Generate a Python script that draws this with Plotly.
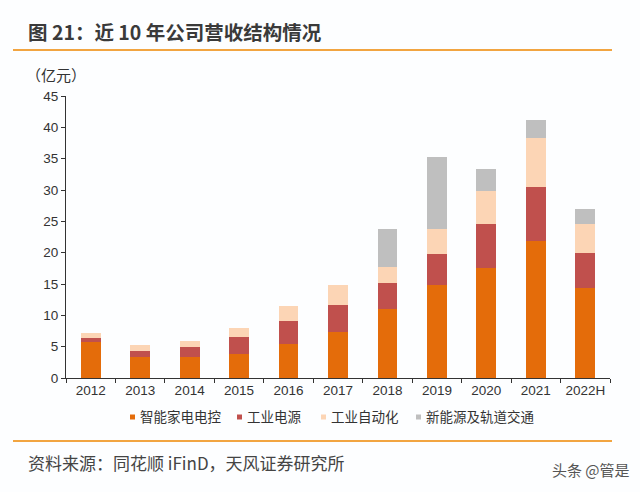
import plotly.graph_objects as go

years = ["2012", "2013", "2014", "2015", "2016", "2017", "2018", "2019", "2020", "2021", "2022H"]
smart_home = [5.8, 3.3, 3.3, 3.8, 5.5, 7.4, 11.0, 14.9, 17.6, 21.8, 14.4]
industrial_power = [0.65, 1.0, 1.65, 2.75, 3.55, 4.2, 4.2, 4.95, 7.0, 8.7, 5.5]
industrial_auto = [0.7, 0.9, 1.0, 1.5, 2.45, 3.2, 2.55, 3.95, 5.3, 7.8, 4.6]
new_energy_rail = [0, 0, 0, 0, 0, 0, 5.95, 11.5, 3.5, 2.9, 2.4]

series = [
    ("智能家电电控", smart_home, "#E46C0A"),
    ("工业电源", industrial_power, "#C0504D"),
    ("工业自动化", industrial_auto, "#FCD5B5"),
    ("新能源及轨道交通", new_energy_rail, "#BFBFBF"),
]
legend_x = [130, 237, 321, 416]  # left edge of each legend marker (px)

FONT = "Liberation Sans, Arial, Noto Sans CJK SC, sans-serif"
CJK = "Noto Sans CJK SC, Liberation Sans, sans-serif"

fig = go.Figure()
for name, vals, color in series:
    fig.add_trace(go.Bar(x=years, y=vals, name=name, marker_color=color,
                         marker_line_width=0, width=0.4, showlegend=False))

W, H = 640, 492
L, R, T, B = 66, 30, 96, 114
pw, ph = W - L - R, H - T - B


def px(x):
    return (x - L) / pw


def py(y):
    return (H - B - y) / ph


shapes = [
    dict(type="line", xref="paper", yref="paper", x0=px(13), x1=px(612), y0=py(50), y1=py(50),
         line=dict(color="#F2A541", width=2)),
    dict(type="line", xref="paper", yref="paper", x0=px(13), x1=px(612), y0=py(441), y1=py(441),
         line=dict(color="#F2A541", width=2)),
]
annotations = [
    dict(text="<b>图 21：近 10 年公司营收结构情况</b>", xref="paper", yref="paper",
         x=px(26), y=py(32), xanchor="left", yanchor="middle", showarrow=False,
         font=dict(family=CJK, size=19.5, color="#3A3A3A")),
    dict(text="（亿元）", xref="paper", yref="paper", x=px(24), y=py(75),
         xanchor="left", yanchor="middle", showarrow=False,
         font=dict(family=CJK, size=15, color="#333333")),
    dict(text="资料来源：同花顺 iFinD，天风证券研究所", xref="paper", yref="paper",
         x=px(26), y=py(462), xanchor="left", yanchor="middle", showarrow=False,
         font=dict(family=CJK, size=17, color="#444444")),
    dict(text="头条 @管是", xref="paper", yref="paper",
         x=px(632), y=py(469), xanchor="right", yanchor="middle", showarrow=False,
         font=dict(family=CJK, size=15, color="#555555")),
]
for (name, vals, color), lx in zip(series, legend_x):
    shapes.append(dict(type="rect", xref="paper", yref="paper",
                       x0=px(lx), x1=px(lx + 5), y0=py(419.5), y1=py(414.5),
                       fillcolor=color, line=dict(width=0)))
    annotations.append(dict(text=name, xref="paper", yref="paper", x=px(lx + 8), y=py(416),
                            xanchor="left", yanchor="middle", showarrow=False,
                            font=dict(family=CJK, size=13.5, color="#333333")))

fig.update_layout(
    width=W, height=H, barmode="stack",
    margin=dict(l=L, r=R, t=T, b=B),
    paper_bgcolor="#FDFEFF", plot_bgcolor="#FDFEFF",
    font=dict(family=FONT, size=13, color="#333333"),
    showlegend=False,
    xaxis=dict(showline=True, linecolor="#333333", linewidth=1, ticks="outside",
               tickson="boundaries", ticklen=4, tickcolor="#333333",
               tickfont=dict(family=FONT, size=13.5, color="#333333"), showgrid=False),
    yaxis=dict(range=[0, 45], dtick=5, showline=True, linecolor="#333333", linewidth=1,
               ticks="outside", ticklen=4, tickcolor="#333333", showgrid=False,
               zeroline=False, tickfont=dict(family=FONT, size=13.5, color="#333333")),
    shapes=shapes,
    annotations=annotations,
)

fig.write_html("out.html")
